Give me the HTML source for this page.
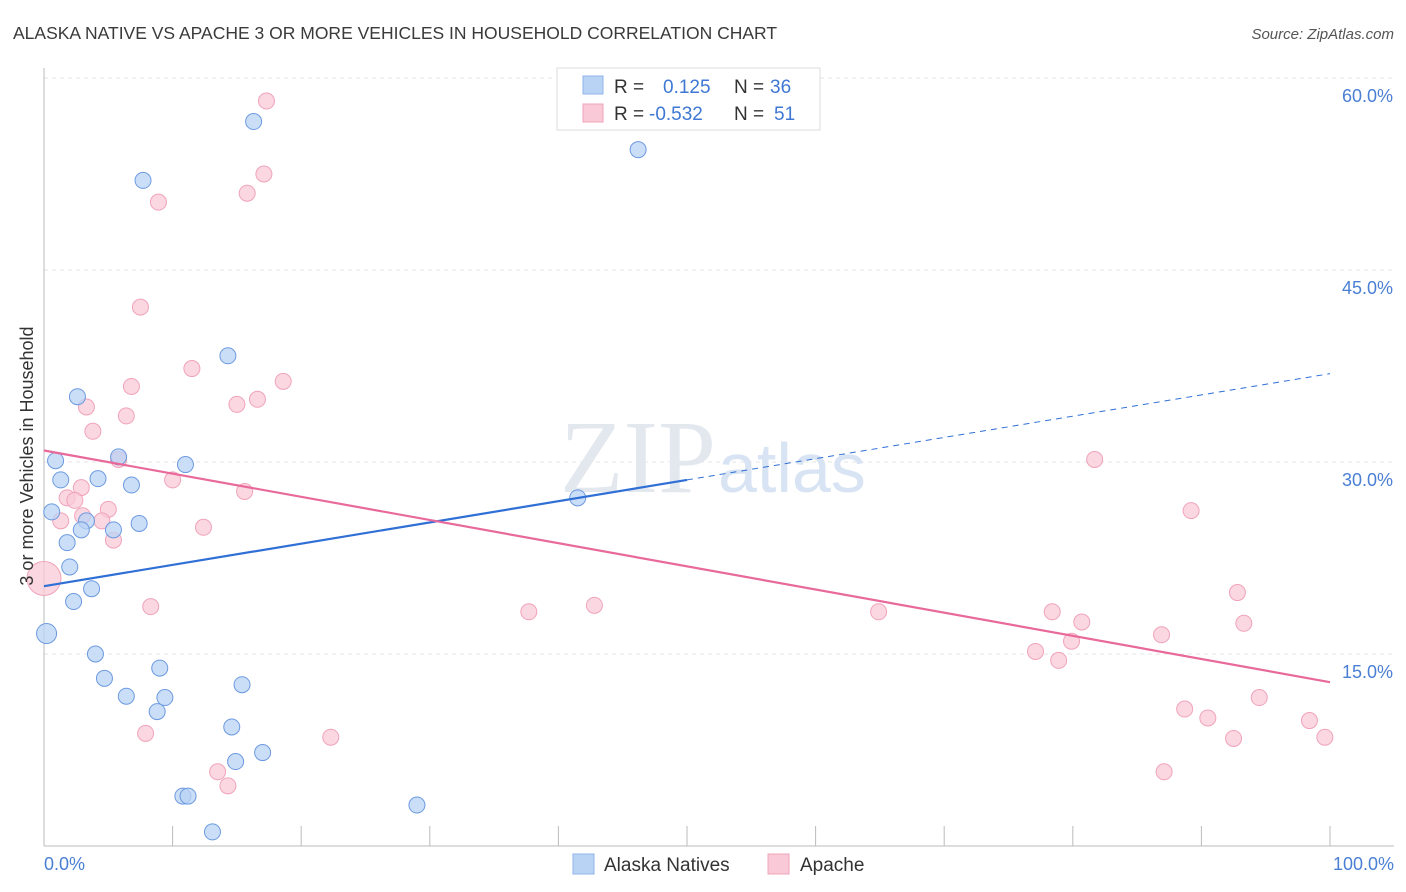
<!DOCTYPE html>
<html><head><meta charset="utf-8"><style>
body{margin:0;background:#fff;font-family:"Liberation Sans",sans-serif}
svg{display:block}
</style></head><body>
<svg width="1406" height="892" viewBox="0 0 1406 892">
<text x="13" y="39" font-size="17.5" fill="#3a3a3a">ALASKA NATIVE VS APACHE 3 OR MORE VEHICLES IN HOUSEHOLD CORRELATION CHART</text>
<text x="1394" y="39" font-size="15" fill="#555" font-style="italic" text-anchor="end">Source: ZipAtlas.com</text>
<g id="grid"></g>
<g id="ticks"></g>
<text x="716" y="492" font-size="104" fill="#e3e8ef" text-anchor="end" font-family="Liberation Serif,serif">ZIP</text>
<text x="718" y="492" font-size="70" fill="#d8e4f3">atlas</text>
<g id="pts"></g>
<g id="lines"></g>
<text x="33" y="456" font-size="18" fill="#333" text-anchor="middle" transform="rotate(-90 33 456)">3 or more Vehicles in Household</text>
<text x="44" y="870" font-size="18" fill="#4a7fd4">0.0%</text>
<text x="1394" y="870" font-size="18" fill="#4a7fd4" text-anchor="end">100.0%</text>
<g>
<rect x="557" y="68" width="263" height="62" fill="#fff" stroke="#ddd"/>
<rect x="583" y="76" width="20" height="18" fill="#b9d3f5" stroke="#8fb3e8"/>
<rect x="583" y="104" width="20" height="18" fill="#f9c9d7" stroke="#f0a3bb"/>
<text x="614" y="93" font-size="19" fill="#333">R =</text><text x="663" y="93" font-size="19" fill="#3f78d4">0.125</text>
<text x="734" y="93" font-size="19" fill="#333">N =</text><text x="770" y="93" font-size="19" fill="#3f78d4">36</text>
<text x="614" y="120" font-size="19" fill="#333">R =</text><text x="649" y="120" font-size="19" fill="#3f78d4">-0.532</text>
<text x="734" y="120" font-size="19" fill="#333">N =</text><text x="774" y="120" font-size="19" fill="#3f78d4">51</text>
</g>
<g>
<rect x="573" y="854" width="21" height="20" fill="#b9d3f5" stroke="#8fb3e8"/>
<text x="604" y="871" font-size="19" fill="#333">Alaska Natives</text>
<rect x="768" y="854" width="21" height="20" fill="#f9c9d7" stroke="#f0a3bb"/>
<text x="800" y="871" font-size="19" fill="#333">Apache</text>
</g>
</svg>
<script>
const blueX=[16.3,7.7,46.2,14.3,2.6,0.9,5.8,11.0,4.2,1.3,6.8,41.5,0.6,3.3,7.4,2.9,5.4,1.8,2.0,3.7,2.3,0.2,4.0,9.0,4.7,15.4,6.4,9.4,8.8,14.6,14.9,17.0,10.8,11.2,13.1,29.0];
const blueY=[56.6,52.0,54.4,38.3,35.1,30.1,30.4,29.8,28.7,28.6,28.2,27.2,26.1,25.4,25.2,24.7,24.7,23.7,21.8,20.1,19.1,16.6,15.0,13.9,13.1,12.6,11.7,11.6,10.5,9.3,6.6,7.3,3.9,3.9,1.1,3.2];
const pinkX=[17.3,17.1,15.8,8.9,7.5,11.5,6.8,18.6,16.6,15.0,3.3,6.4,3.8,5.8,81.7,10.0,2.9,1.8,2.4,15.6,5.0,89.2,1.3,4.5,12.4,5.4,0,8.3,37.7,42.8,64.9,78.4,80.7,79.9,77.1,78.9,86.9,92.8,93.3,94.5,88.7,90.5,92.5,98.4,99.6,87.1,7.9,22.3,13.5,14.3,3.0];
const pinkY=[58.2,52.5,51.0,50.3,42.1,37.3,35.9,36.3,34.9,34.5,34.3,33.6,32.4,30.2,30.2,28.6,28.0,27.2,27.0,27.7,26.3,26.2,25.4,25.4,24.9,23.9,20.9,18.7,18.3,18.8,18.3,18.3,17.5,16.0,15.2,14.5,16.5,19.8,17.4,11.6,10.7,10.0,8.4,9.8,8.5,5.8,8.8,8.5,5.8,4.7,25.8];
const yTicks=[15,30,45,60];
const yTickLabels=["15.0%","30.0%","45.0%","60.0%"];
const blueTrend=[20.3,36.9];
const pinkTrend=[30.9,12.8];
const NS="http://www.w3.org/2000/svg";
const X=v=>44+v*12.86, Y=v=>846-v*12.8;
function mk(t,a,p){const e=document.createElementNS(NS,t);for(const k in a)e.setAttribute(k,a[k]);p.appendChild(e);return e;}
const grid=document.getElementById('grid');
yTicks.forEach((t,i)=>{
 const l=mk('line',{x1:44,x2:1394,y1:Y(t),y2:Y(t),stroke:'#e6e6e6','stroke-dasharray':'4,4'},grid);
 
 
 const tx=mk('text',{x:1393,y:Y(t)+24,'font-size':18,fill:'#4a7fd4','text-anchor':'end'},grid);
 tx.textContent=yTickLabels[i];
 
 
});
const tk=document.getElementById('ticks');
const ax=mk('line',{x1:44,x2:1394,y1:846,y2:846,stroke:'#bbb'},tk);


const ay=mk('line',{x1:44,x2:44,y1:68,y2:846,stroke:'#bbb'},tk);


for(let i=1;i<=10;i++){const l=mk('line',{x1:X(i*10),x2:X(i*10),y1:826,y2:846,stroke:'#bbb'},tk);
 
 }
const pts=document.getElementById('pts');
pinkX.forEach((x,i)=>{const c=mk('circle',{cx:X(x),cy:Y(pinkY[i]),r:x===0?17:8,fill:'#f9c9d7','fill-opacity':0.75,stroke:'#f0a3bb'},pts);
 
 });
blueX.forEach((x,i)=>{const c=mk('circle',{cx:X(x),cy:Y(blueY[i]),r:x<0.5?10:8,fill:'#b9d3f5','fill-opacity':0.75,stroke:'#6c9ae0'},pts);
 
 });
const ln=document.getElementById('lines');
const bAt=v=>blueTrend[0]+(blueTrend[1]-blueTrend[0])*v/100;
const b1=mk('line',{x1:X(0),y1:Y(bAt(0)),x2:X(50),y2:Y(bAt(50)),stroke:'#2f6fd6','stroke-width':2.2},ln);


const b2=mk('line',{x1:X(50),y1:Y(bAt(50)),x2:X(100),y2:Y(bAt(100)),stroke:'#2f6fd6','stroke-width':1,'stroke-dasharray':'6,5'},ln);


const p1=mk('line',{x1:X(0),y1:Y(pinkTrend[0]),x2:X(100),y2:Y(pinkTrend[1]),stroke:'#e8699a','stroke-width':2.2},ln);


</script>
</body></html>
